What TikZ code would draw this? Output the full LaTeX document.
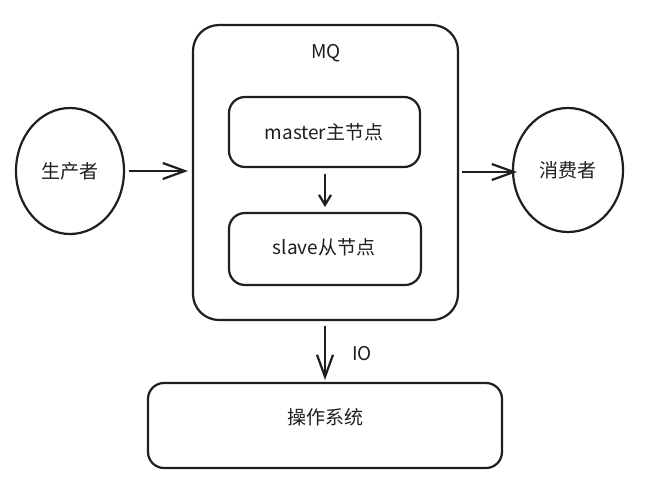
\documentclass[tikz,border=0pt]{standalone}
\usepackage{fontspec}
\setmainfont{Noto Sans CJK SC}
\usetikzlibrary{arrows.meta}
\tikzset{
  lw/.style={line width=2.2pt, draw=black!88},
  roundbox/.style={lw, rounded corners=16pt},
  conn/.style={lw, -{Straight Barb[length=22pt,width=16pt,line width=2.2pt]}},
  connsmall/.style={lw, -{Straight Barb[length=10pt,width=12pt,line width=2.2pt]}},
  lbl/.style={font=\fontsize{19pt}{21pt}\selectfont, text=black!88},
}
\begin{document}
\begin{tikzpicture}[x=1pt,y=-1pt]
\useasboundingbox[fill=white] (0,0) rectangle (651,483);
% ellipses
\draw[lw] (70,171) ellipse [x radius=54, y radius=63];
\node[lbl] (prod) at (70,171) {生产者};
\coordinate (prodE) at (129,171);
\draw[lw] (568,170) ellipse [x radius=55, y radius=62];
\node[lbl] (cons) at (568,170) {消费者};
\coordinate (consW) at (517,172);
% MQ box
\draw[roundbox, rounded corners=26pt] (193,25) rectangle (458,320);
\node[lbl] (mq) at (326,53) {MQ};
\coordinate (mqW) at (188,171);
\coordinate (mqE) at (462,172);
\coordinate (mqS) at (325,326);
% master / slave
\draw[roundbox] (229,97) rectangle (420,167);
\node[lbl] (master) at (324,132) {master主节点};
\coordinate (masterS) at (325,174);
\draw[roundbox] (229,213) rectangle (421,285);
\node[lbl] (slave) at (324,247) {slave从节点};
\coordinate (slaveN) at (325,207);
% OS
\draw[roundbox] (148,383) rectangle (502,468);
\node[lbl] (os) at (325,417) {操作系统};
\coordinate (osN) at (325,380);
% connectors
\draw[conn] (prodE) -- (mqW);
\draw[conn] (mqE) -- (consW);
\draw[connsmall] (masterS) -- (slaveN);
\draw[conn] (mqS) -- (osN);
\node[lbl] (io) at (362,354) {IO};
\end{tikzpicture}
\end{document}
